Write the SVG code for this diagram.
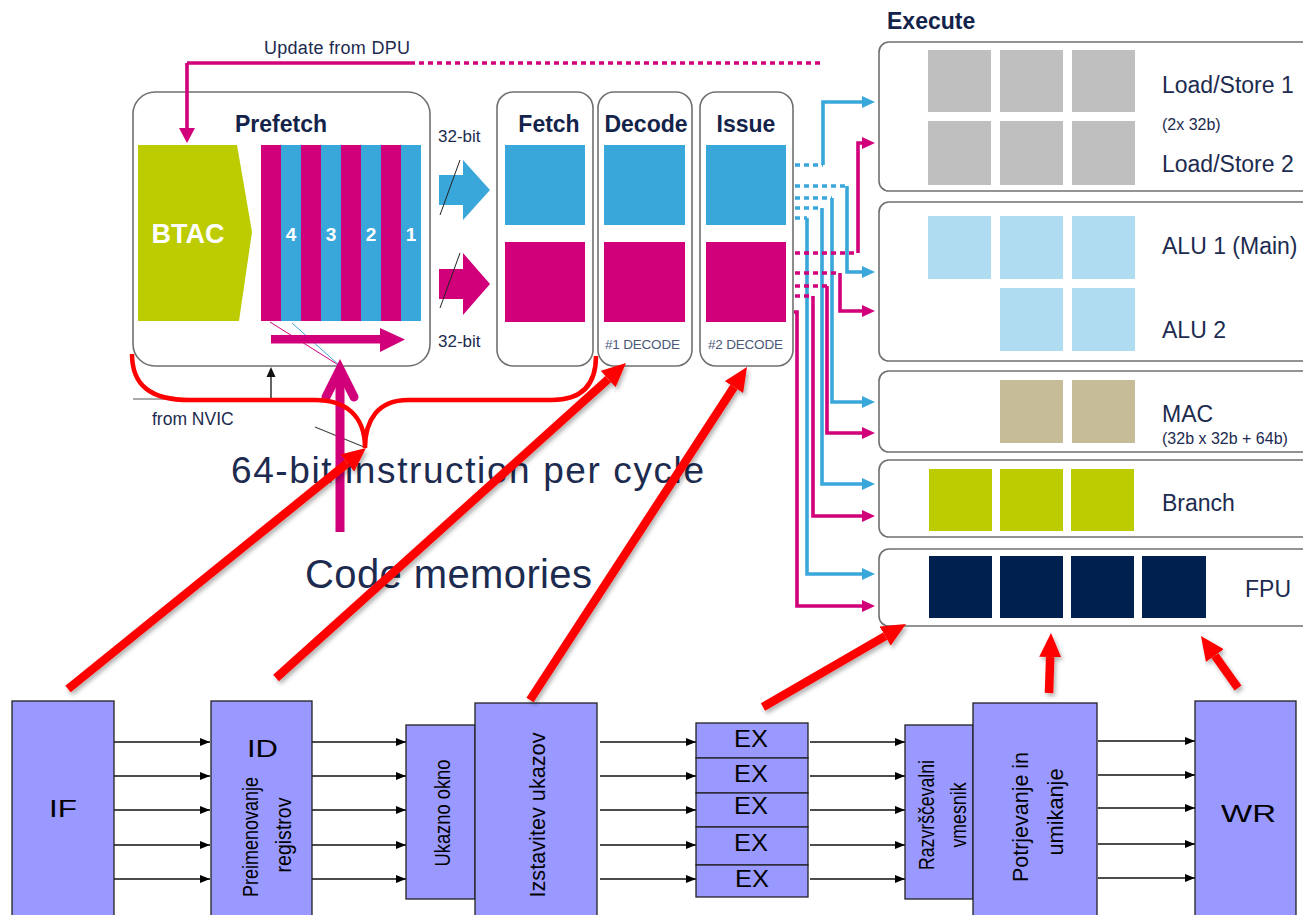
<svg xmlns="http://www.w3.org/2000/svg" width="1303" height="915" viewBox="0 0 1303 915">
<defs>
<style>
text{font-family:"Liberation Sans",Arial,sans-serif}
.box{fill:#fff;stroke:#707070;stroke-width:1.6}
.ttl{font-weight:bold;font-size:23px;fill:#14234a}
.lbl{font-size:23px;fill:#1c2b4f}
.sm{font-size:16px;fill:#1c2b4f}
.dec{font-size:13.5px;fill:#4a5878}
.cb{fill:none;stroke:#3aa7db;stroke-width:3.6}
.cm{fill:none;stroke:#d1007a;stroke-width:3.6}
.dot{stroke-dasharray:5 4}
.pb{fill:#9999ff;stroke:#222;stroke-width:1.3}
.pa{stroke:#111;stroke-width:1.5;fill:none;marker-end:url(#ak)}
.pt{font-size:24px;fill:#000}
.rt{font-size:22px;fill:#000}
.red{stroke:#ff0000;stroke-width:8.5;fill:none;marker-end:url(#ar)}
.m{fill:#d1007a}
.b{fill:#3aa7db}
</style>
<marker id="ab" viewBox="0 0 13 12" refX="0" refY="6" markerWidth="13" markerHeight="12" markerUnits="userSpaceOnUse" orient="auto"><path d="M0,0 L13,6 L0,12 z" fill="#3aa7db"/></marker>
<marker id="am" viewBox="0 0 13 12" refX="0" refY="6" markerWidth="13" markerHeight="12" markerUnits="userSpaceOnUse" orient="auto"><path d="M0,0 L13,6 L0,12 z" fill="#d1007a"/></marker>
<marker id="ak" viewBox="0 0 10 8" refX="10" refY="4" markerWidth="10" markerHeight="8" markerUnits="userSpaceOnUse" orient="auto"><path d="M0,0 L10,4 L0,8 z" fill="#000"/></marker>
<marker id="ar" viewBox="0 -11 24 22" refX="0" refY="0" markerWidth="24" markerHeight="22" markerUnits="userSpaceOnUse" orient="auto"><path d="M0,-11 L24,0 L0,11 z" fill="#ff0000"/></marker>
<filter id="sh" filterUnits="userSpaceOnUse" x="0" y="0" width="1303" height="915"><feDropShadow dx="2" dy="3" stdDeviation="2" flood-color="#000" flood-opacity="0.3"/></filter>
</defs>
<rect width="1303" height="915" fill="#fff"/>

<!-- top labels -->
<text x="264" y="54" font-size="18" fill="#1c2b4f" textLength="146">Update from DPU</text>
<text x="887" y="29" font-weight="bold" font-size="23" fill="#14234a">Execute</text>

<!-- Prefetch -->
<g id="prefetch">
<rect class="box" x="133" y="92" width="297" height="274" rx="22"/>
<text class="ttl" x="235" y="132">Prefetch</text>
<polygon points="138,145 237,145 252,232 239,321 138,321" fill="#bccc00"/>
<text x="188" y="243" text-anchor="middle" font-weight="bold" font-size="27" fill="#fff">BTAC</text>
<rect class="m" x="261" y="145" width="20" height="176"/>
<rect class="b" x="281" y="145" width="20" height="176"/>
<rect class="m" x="301" y="145" width="20" height="176"/>
<rect class="b" x="321" y="145" width="20" height="176"/>
<rect class="m" x="341" y="145" width="20" height="176"/>
<rect class="b" x="361" y="145" width="20" height="176"/>
<rect class="m" x="381" y="145" width="20" height="176"/>
<rect class="b" x="401" y="145" width="20" height="176"/>
<g font-weight="bold" font-size="19" fill="#fff" text-anchor="middle">
<text x="291" y="241">4</text><text x="331" y="241">3</text><text x="371" y="241">2</text><text x="411" y="241">1</text>
</g>
<line x1="270" y1="322" x2="340" y2="366" stroke="#d1007a" stroke-width="1"/>
<line x1="292" y1="323" x2="340" y2="366" stroke="#3aa7db" stroke-width="1"/>
<rect class="m" x="271" y="335" width="110" height="8.5"/>
<polygon class="m" points="380,328 405,339.5 380,352"/>
</g>

<!-- 32-bit arrows -->
<g id="bus">
<text x="438" y="142" font-size="17" fill="#1c2b4f">32-bit</text>
<text x="438" y="347" font-size="17" fill="#1c2b4f">32-bit</text>
<polygon class="b" points="439,175 463,175 463,160 490,190 463,220 463,205 439,205"/>
<polygon class="m" points="439,269 463,269 463,253 490,284 463,315 463,299 439,299"/>
<line x1="440" y1="215" x2="460" y2="160" stroke="#222" stroke-width="1"/>
<line x1="440" y1="308" x2="460" y2="253" stroke="#222" stroke-width="1"/>
</g>

<g id="fetch">
<rect class="box" x="497" y="92" width="96" height="274" rx="16"/>
<text class="ttl" x="549" y="132" text-anchor="middle">Fetch</text>
<rect class="b" x="505" y="145" width="80" height="80"/>
<rect class="m" x="505" y="242" width="80" height="80"/>
</g>
<g id="decode">
<rect class="box" x="598" y="92" width="94" height="274" rx="16"/>
<text class="ttl" x="646" y="132" text-anchor="middle">Decode</text>
<rect class="b" x="604" y="145" width="81" height="80"/>
<rect class="m" x="604" y="242" width="81" height="80"/>
<text class="dec" x="605" y="349" textLength="75">#1 DECODE</text>
</g>
<g id="issue">
<rect class="box" x="700" y="92" width="93" height="274" rx="16"/>
<text class="ttl" x="746" y="132" text-anchor="middle">Issue</text>
<rect class="b" x="706" y="145" width="80" height="80"/>
<rect class="m" x="706" y="242" width="80" height="80"/>
<text class="dec" x="708" y="349" textLength="75">#2 DECODE</text>
</g>

<!-- Execute units -->
<g id="loadstore">
<rect class="box" x="879" y="42" width="440" height="149" rx="10"/>
<g fill="#bfbfbf">
<rect x="928" y="50" width="63" height="62"/><rect x="1000" y="50" width="63" height="62"/><rect x="1072" y="50" width="63" height="62"/>
<rect x="928" y="121" width="63" height="64"/><rect x="1000" y="121" width="63" height="64"/><rect x="1072" y="121" width="63" height="64"/>
</g>
<text class="lbl" x="1162" y="93">Load/Store 1</text>
<text class="sm" x="1162" y="130">(2x 32b)</text>
<text class="lbl" x="1162" y="172">Load/Store 2</text>
</g>
<g id="alu">
<rect class="box" x="879" y="202" width="440" height="159" rx="10"/>
<g fill="#b0dcf1">
<rect x="928" y="216" width="63" height="63"/><rect x="1000" y="216" width="63" height="63"/><rect x="1072" y="216" width="63" height="63"/>
<rect x="1000" y="288" width="63" height="63"/><rect x="1072" y="288" width="63" height="63"/>
</g>
<text class="lbl" x="1162" y="254">ALU 1 (Main)</text>
<text class="lbl" x="1162" y="338">ALU 2</text>
</g>
<g id="mac">
<rect class="box" x="879" y="371" width="440" height="81" rx="10"/>
<g fill="#c6bd98">
<rect x="1000" y="380" width="63" height="63"/><rect x="1072" y="380" width="63" height="63"/>
</g>
<text class="lbl" x="1162" y="422">MAC</text>
<text class="sm" x="1162" y="444">(32b x 32b + 64b)</text>
</g>
<g id="branch">
<rect class="box" x="879" y="460" width="440" height="77" rx="10"/>
<g fill="#bccc00">
<rect x="929" y="469" width="63" height="62"/><rect x="1000" y="469" width="63" height="62"/><rect x="1071" y="469" width="63" height="62"/>
</g>
<text class="lbl" x="1162" y="511">Branch</text>
</g>
<g id="fpu">
<rect class="box" x="879" y="549" width="440" height="77" rx="10"/>
<g fill="#00204f">
<rect x="929" y="556" width="63" height="62"/><rect x="1000" y="556" width="63" height="62"/><rect x="1071" y="556" width="63" height="62"/><rect x="1142" y="556" width="64" height="62"/>
</g>
<text class="lbl" x="1245" y="597">FPU</text>
</g>

<!-- lower text -->
<g id="nvic">
<line x1="133" y1="399" x2="271" y2="399" stroke="#555" stroke-width="1.2"/>
<line x1="271" y1="399" x2="271" y2="376" stroke="#111" stroke-width="1.3"/>
<polygon points="266.5,377 271,367 275.5,377" fill="#111"/>
<text x="152" y="425" font-size="17.5" fill="#1c2b4f">from NVIC</text>
</g>
<g id="code">
<line x1="315" y1="427" x2="364" y2="447" stroke="#444" stroke-width="1.2"/>
<text x="231" y="483" font-size="37" fill="#1c2b4f" textLength="473">64-bit instruction per cycle</text>
<text x="305" y="588" font-size="40" fill="#1c2b4f" textLength="287">Code memories</text>
<line x1="340" y1="532" x2="340" y2="372" stroke="#d1007a" stroke-width="9"/>
<polyline points="326,397 340,369 354,397" fill="none" stroke="#d1007a" stroke-width="9" stroke-linecap="round"/>
</g>

<!-- connectors -->
<g id="connectors">
<path class="cm" d="M187,63 H410"/>
<path class="cm dot" d="M410,63 H820"/>
<path class="cm" d="M187,63 V129"/>
<polygon class="m" points="179,128 195,128 187,143"/>

<path class="cb dot" d="M795,165 H823"/><path class="cb" d="M823,165 V102 H862" marker-end="url(#ab)"/>
<path class="cb dot" d="M795,186 H847"/><path class="cb" d="M847,186 V272 H862" marker-end="url(#ab)"/>
<path class="cb dot" d="M795,198 H832"/><path class="cb" d="M832,198 V402 H862" marker-end="url(#ab)"/>
<path class="cb dot" d="M795,208 H822"/><path class="cb" d="M822,208 V484 H862" marker-end="url(#ab)"/>
<path class="cb dot" d="M795,218 H807"/><path class="cb" d="M807,218 V574 H862" marker-end="url(#ab)"/>

<path class="cm dot" d="M795,253 H858"/><path class="cm" d="M858,253 V143 H862" marker-end="url(#am)"/>
<path class="cm dot" d="M795,273 H840"/><path class="cm" d="M840,273 V311 H862" marker-end="url(#am)"/>
<path class="cm dot" d="M795,286 H827"/><path class="cm" d="M827,286 V433 H862" marker-end="url(#am)"/>
<path class="cm dot" d="M795,296 H813"/><path class="cm" d="M813,296 V516 H862" marker-end="url(#am)"/>
<path class="cm" d="M794,312 H797 V606 H862" marker-end="url(#am)"/>

<path class="pa" d="M114,742 H210"/><path class="pa" d="M114,776 H210"/><path class="pa" d="M114,810 H210"/><path class="pa" d="M114,845 H210"/><path class="pa" d="M114,879 H210"/>
<path class="pa" d="M312,742 H406"/><path class="pa" d="M312,776 H406"/><path class="pa" d="M312,810 H406"/><path class="pa" d="M312,845 H406"/><path class="pa" d="M312,879 H406"/>
<path class="pa" d="M600,742 H696"/><path class="pa" d="M600,776 H696"/><path class="pa" d="M600,810 H696"/><path class="pa" d="M600,845 H696"/><path class="pa" d="M600,879 H696"/>
<path class="pa" d="M810,742 H905"/><path class="pa" d="M810,776 H905"/><path class="pa" d="M810,810 H905"/><path class="pa" d="M810,845 H905"/><path class="pa" d="M810,879 H905"/>
<path class="pa" d="M1098,741 H1195"/><path class="pa" d="M1098,775 H1195"/><path class="pa" d="M1098,808 H1195"/><path class="pa" d="M1098,844 H1195"/><path class="pa" d="M1098,878 H1195"/>
</g>

<!-- pipeline nodes -->
<g id="if"><rect class="pb" x="12" y="701" width="102" height="230"/><text class="pt" x="49" y="817" textLength="28" lengthAdjust="spacingAndGlyphs">IF</text></g>
<g id="id"><rect class="pb" x="211" y="701" width="101" height="230"/><text class="pt" x="247" y="757" textLength="31" lengthAdjust="spacingAndGlyphs">ID</text>
<text class="rt" transform="translate(250,837) rotate(-90)" y="8" text-anchor="middle" textLength="120" lengthAdjust="spacingAndGlyphs">Preimenovanje</text>
<text class="rt" transform="translate(283,835) rotate(-90)" y="8" text-anchor="middle" textLength="75" lengthAdjust="spacingAndGlyphs">registrov</text></g>
<g id="ukazno"><rect class="pb" x="406" y="725" width="69" height="174"/>
<text class="rt" transform="translate(442,813) rotate(-90)" y="8" text-anchor="middle" textLength="107" lengthAdjust="spacingAndGlyphs">Ukazno okno</text></g>
<g id="izstavitev"><rect class="pb" x="475" y="703" width="122" height="230"/>
<text class="rt" font-size="27" transform="translate(535,815) rotate(-90)" y="10" text-anchor="middle" textLength="165" lengthAdjust="spacingAndGlyphs">Izstavitev ukazov</text></g>
<g id="ex">
<rect class="pb" x="696" y="723" width="112" height="35"/>
<rect class="pb" x="696" y="758" width="112" height="35"/>
<rect class="pb" x="696" y="793" width="112" height="34"/>
<rect class="pb" x="696" y="827" width="112" height="38"/>
<rect class="pb" x="696" y="865" width="112" height="32"/>
<g class="pt" font-size="17" text-anchor="middle">
<text x="751" y="747" textLength="34" lengthAdjust="spacingAndGlyphs">EX</text>
<text x="751" y="782" textLength="34" lengthAdjust="spacingAndGlyphs">EX</text>
<text x="751" y="814" textLength="34" lengthAdjust="spacingAndGlyphs">EX</text>
<text x="751" y="851" textLength="34" lengthAdjust="spacingAndGlyphs">EX</text>
<text x="752" y="887" textLength="34" lengthAdjust="spacingAndGlyphs">EX</text>
</g></g>
<g id="razvrscevalni"><rect class="pb" x="905" y="725" width="68" height="174"/>
<text class="rt" transform="translate(926,815) rotate(-90)" y="8" text-anchor="middle" textLength="110" lengthAdjust="spacingAndGlyphs">Razvrščevalni</text>
<text class="rt" transform="translate(958,815) rotate(-90)" y="8" text-anchor="middle" textLength="65" lengthAdjust="spacingAndGlyphs">vmesnik</text></g>
<g id="potrjevanje"><rect class="pb" x="973" y="703" width="124" height="230"/>
<text class="rt" font-size="25" transform="translate(1019,817) rotate(-90)" y="9" text-anchor="middle" textLength="130" lengthAdjust="spacingAndGlyphs">Potrjevanje in</text>
<text class="rt" font-size="25" transform="translate(1054,812) rotate(-90)" y="9" text-anchor="middle" textLength="87" lengthAdjust="spacingAndGlyphs">umikanje</text></g>
<g id="wr"><rect class="pb" x="1195" y="701" width="101" height="230"/><text class="pt" x="1221" y="822" font-size="22" textLength="55" lengthAdjust="spacingAndGlyphs">WR</text></g>

<!-- red overlay -->
<g id="overlay">
<path d="M132,354 C132,385 150,400 190,400 L315,400 C345,400 365,415 365,448 C365,420 378,400 408,400 L552,400 C582,400 596,385 596,356" fill="none" stroke="#ff0000" stroke-width="4.5"/>
<g filter="url(#sh)">
<line class="red" x1="68" y1="689" x2="347.3" y2="463.1"/>
<line class="red" x1="276" y1="678" x2="608.2" y2="379.1"/>
<line class="red" x1="530" y1="700" x2="733.9" y2="387.1"/>
<line class="red" x1="763" y1="707" x2="885.2" y2="636.1"/>
<line class="red" x1="1049" y1="693" x2="1050.2" y2="657"/>
<line class="red" x1="1238" y1="688" x2="1214.9" y2="655.6"/>
</g>
</g>
</svg>
